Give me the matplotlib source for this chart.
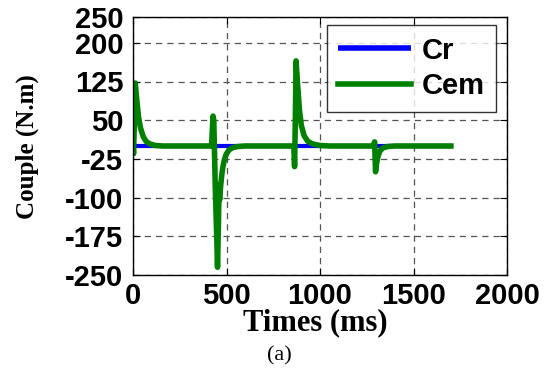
import matplotlib
matplotlib.use("Agg")
import matplotlib.pyplot as plt

# Data
cr_t = [0, 1700]
cr_v = [0, 0]

cem_t = [0, 3, 8, 12, 20, 30, 40, 55, 70, 90, 120, 160,
         420, 428, 432, 440, 448, 452, 457, 460, 463, 468, 475, 481, 490, 500, 515, 535, 560, 600,
         860, 864, 868, 872, 880, 890, 900, 915, 935, 960, 1000, 1050,
         1285, 1292, 1297, 1302, 1310, 1320, 1335, 1360, 1400, 1700]
cem_v = [0, -15, 60, 122, 90, 55, 35, 18, 9, 4, 1, 0,
         0, 58, 50, -80, -180, -235, -150, -75, -105, -80, -55, -40, -25, -15, -7, -3, -1, 0,
         0, -40, 50, 165, 120, 70, 40, 20, 9, 4, 1, 0,
         0, 8, -50, -35, -20, -10, -4, -1, 0, 0]

xticks = [0, 500, 1000, 1500, 2000]
yticks = [-250, -175, -100, -25, 50, 125, 200, 250]

fig = plt.figure(figsize=(5.48, 3.70), dpi=100)
ax = fig.add_axes([133/548, 1-275/370, (507-133)/548, (275-17)/370])

ax.plot(cr_t, cr_v, color=(0, 0, 1), lw=3.0, label="Cr", solid_capstyle="butt")
ax.plot(cem_t, cem_v, color=(0, 0.5, 0), lw=4.0, label="Cem")

ax.set_xlim(0, 2000)
ax.set_ylim(-250, 250)
ax.set_xticks(xticks)
ax.set_yticks(yticks)
ax.grid(True, linestyle=(0, (5, 4)), color="#555555", lw=0.9)

tick_font = dict(family="Liberation Sans", weight="bold", size=21)
ax.set_xticklabels([str(v) for v in xticks], fontdict=tick_font)
ax.set_yticklabels([str(v) for v in yticks], fontdict=tick_font)
ax.tick_params(direction="in", top=True, right=True, length=5, width=0.8)
ax.tick_params(axis="y", pad=7)
ax.tick_params(axis="x", pad=5)
for s in ax.spines.values():
    s.set_linewidth(1.0)

ax.set_ylabel("Couple (N.m)", fontdict=dict(family="Liberation Serif", weight="bold", size=18))
ax.yaxis.set_label_coords(-(133-27)/374, (275-147)/258)
ax.set_xlabel("Times (ms)", fontdict=dict(family="Liberation Serif", weight="bold", size=22))
ax.xaxis.set_label_coords((315-133)/374, -(323-275)/258)
ax.xaxis.label.set_va("center")
ax.yaxis.label.set_va("center")

leg = ax.legend(loc="upper right", bbox_to_anchor=(496/548, 1-25/370),
                bbox_transform=fig.transFigure, borderaxespad=0,
                prop=dict(family="Liberation Sans", weight="bold", size=21),
                frameon=True, fancybox=False, edgecolor="black", handlelength=2.5,
                borderpad=0.4, labelspacing=0.25, handletextpad=0.35)
leg.get_frame().set_linewidth(1.0)
for h in leg.get_lines():
    h.set_linewidth(4)

fig.text(279/548, 1-356/370, "(a)", family="Liberation Serif", size=16, ha="center", va="center")

fig.savefig("out.png", dpi=100)
